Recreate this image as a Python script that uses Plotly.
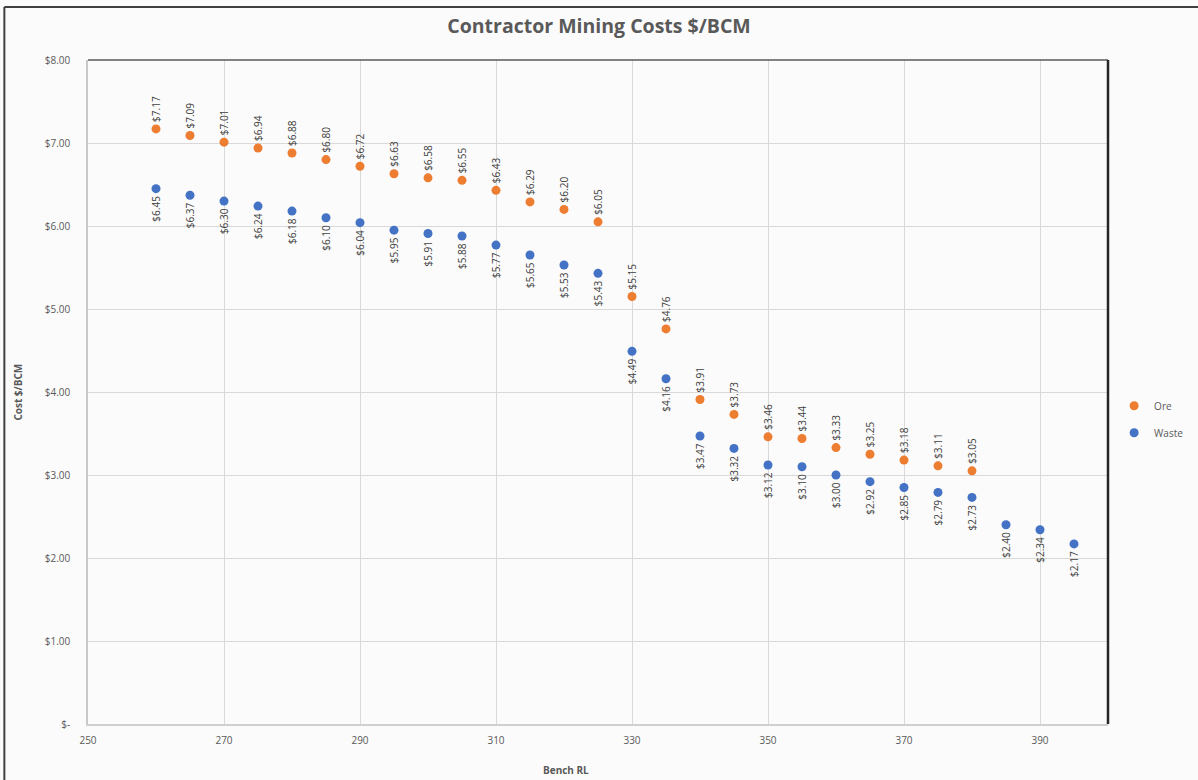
import plotly.graph_objects as go

# Bench elevations (RL) and contractor rates in $/BCM
ore_rl = [260, 265, 270, 275, 280, 285, 290, 295, 300, 305, 310, 315, 320, 325,
          330, 335, 340, 345, 350, 355, 360, 365, 370, 375, 380]
ore_cost = [7.17, 7.09, 7.01, 6.94, 6.88, 6.80, 6.72, 6.63, 6.58, 6.55, 6.43, 6.29, 6.20, 6.05,
            5.15, 4.76, 3.91, 3.73, 3.46, 3.44, 3.33, 3.25, 3.18, 3.11, 3.05]

waste_rl = [260, 265, 270, 275, 280, 285, 290, 295, 300, 305, 310, 315, 320, 325,
            330, 335, 340, 345, 350, 355, 360, 365, 370, 375, 380, 385, 390, 395]
waste_cost = [6.45, 6.37, 6.30, 6.24, 6.18, 6.10, 6.04, 5.95, 5.91, 5.88, 5.77, 5.65, 5.53, 5.43,
              4.49, 4.16, 3.47, 3.32, 3.12, 3.10, 3.00, 2.92, 2.85, 2.79, 2.73, 2.40, 2.34, 2.17]

y_ticks = [0, 1, 2, 3, 4, 5, 6, 7, 8]
y_tick_text = ["$-", "$1.00", "$2.00", "$3.00", "$4.00", "$5.00", "$6.00", "$7.00", "$8.00"]
x_ticks = [250, 270, 290, 310, 330, 350, 370, 390]

ORE = "#ED7D31"
WASTE = "#4472C4"
TEXT = "#595959"
FONT = "Open Sans"

fig = go.Figure()
fig.add_trace(go.Scatter(x=ore_rl, y=ore_cost, mode="markers", name="Ore",
                         legendgroup="ore",
                         marker=dict(color=ORE, size=9)))
fig.add_trace(go.Scatter(x=waste_rl, y=waste_cost, mode="markers", name="Waste",
                         legendgroup="waste",
                         marker=dict(color=WASTE, size=9)))

annotations = []
# Ore labels sit above each point, waste labels below, both rotated
for x, v in zip(ore_rl, ore_cost):
    annotations.append(dict(x=x, y=v, xref="x", yref="y", text=f"${v:.2f}",
                            showarrow=False, textangle=-90, yanchor="bottom",
                            xanchor="center", yshift=5,
                            font=dict(family=FONT, size=10, color="#404040")))
for x, v in zip(waste_rl, waste_cost):
    annotations.append(dict(x=x, y=v, xref="x", yref="y", text=f"${v:.2f}",
                            showarrow=False, textangle=-90, yanchor="top",
                            xanchor="center", yshift=-5,
                            font=dict(family=FONT, size=10, color="#404040")))

# Axis titles
annotations.append(dict(x=0.469, y=-0.069, xref="paper", yref="paper",
                        text="<b>Bench RL</b>", showarrow=False,
                        xanchor="center", yanchor="middle",
                        font=dict(family=FONT, size=10, color=TEXT)))
annotations.append(dict(x=-0.069, y=0.5, xref="paper", yref="paper",
                        text="<b>Cost $/BCM</b>", showarrow=False, textangle=-90,
                        xanchor="center", yanchor="middle",
                        font=dict(family=FONT, size=10, color=TEXT)))

shapes = [
    # plot-area frame: darker top and right edges
    dict(type="line", xref="paper", yref="paper", x0=0, x1=1, y0=1, y1=1,
         line=dict(color="#5a5a5a", width=1.5)),
    dict(type="line", xref="paper", yref="paper", x0=1, x1=1, y0=0, y1=1,
         line=dict(color="#262626", width=2.5)),
    # outer chart border on left and top
    dict(type="line", xref="paper", yref="paper", x0=-0.082, x1=-0.082, y0=-0.09, y1=1.080,
         line=dict(color="#404040", width=2)),
    dict(type="line", xref="paper", yref="paper", x0=-0.082, x1=1.2, y0=1.080, y1=1.080,
         line=dict(color="#404040", width=2)),
]

fig.update_layout(
    width=1198, height=780,
    margin=dict(l=88, r=90, t=60, b=56, autoexpand=False),
    paper_bgcolor="#fbfbfb", plot_bgcolor="#fbfbfb",
    font=dict(family=FONT, color=TEXT, size=10),
    title=dict(text="<b>Contractor Mining Costs $/BCM</b>", x=0.5, xanchor="center",
               y=0.967, yanchor="middle",
               font=dict(family=FONT, size=19.5, color=TEXT)),
    legend=dict(x=1.006, y=0.459, xanchor="left", yanchor="middle",
                traceorder="grouped", tracegroupgap=8,
                font=dict(family=FONT, size=10, color=TEXT),
                bgcolor="rgba(0,0,0,0)", itemwidth=30),
    annotations=annotations,
    shapes=shapes,
    xaxis=dict(range=[250, 400], tickvals=x_ticks, ticktext=[str(t) for t in x_ticks],
               showgrid=True, gridcolor="#d9d9d9", gridwidth=1,
               showline=True, linecolor="#d0d0d0", linewidth=1.5,
               zeroline=False, ticks="", ticklabelstandoff=6,
               tickfont=dict(size=10, color=TEXT)),
    yaxis=dict(range=[0, 8], tickvals=y_ticks, ticktext=y_tick_text,
               showgrid=True, gridcolor="#d9d9d9", gridwidth=1,
               showline=True, linecolor="#c8c8c8", linewidth=1.5,
               zeroline=False, ticks="", ticklabelstandoff=14,
               tickfont=dict(size=10, color=TEXT)),
)

fig.write_html("out.html")
